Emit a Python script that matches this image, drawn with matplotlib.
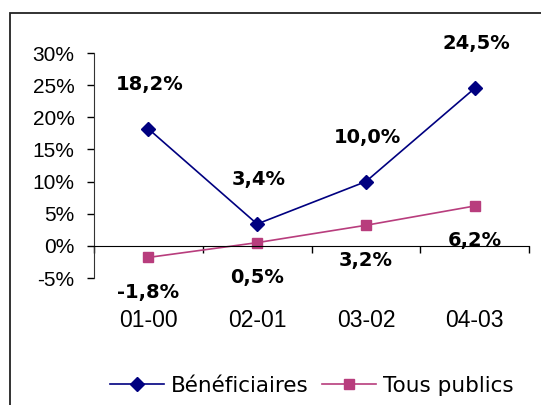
#!/usr/bin/env python3
"""Evolution Bénéficiaires vs Tous publics."""

import matplotlib

matplotlib.use("Agg")
import matplotlib.pyplot as plt
from matplotlib.patches import Rectangle
from matplotlib.lines import Line2D


periods = ["01-00", "02-01", "03-02", "04-03"]
beneficiaires = [18.2, 3.4, 10.0, 24.5]
tous_publics = [-1.8, 0.5, 3.2, 6.2]
y_ticks = [-5, 0, 5, 10, 15, 20, 25, 30]

BLUE = "#000080"
PINK = "#B83D7D"


def fmt(v: float) -> str:
    return f"{v:.1f}%".replace(".", ",")


def main() -> None:
    fig = plt.figure(figsize=(5.41, 4.05), dpi=100)
    ax = fig.add_axes([94 / 541, 1 - 278 / 405, 435 / 541, 225 / 405])

    # outer frame of the chart area (runs off the right and bottom edges)
    fig.patches.append(Rectangle((10 / 541, -0.2), 1.2, 1 - 13 / 405 + 0.2,
                                 transform=fig.transFigure, fill=False,
                                 edgecolor="#222222", linewidth=1.3))

    x = list(range(len(periods)))
    ax.plot(x, beneficiaires, color=BLUE, marker="D", markersize=7.5, linewidth=1.2)
    ax.plot(x, tous_publics, color=PINK, marker="s", markersize=7.5, linewidth=1.2)

    ax.set_xlim(-0.5, 3.5)
    ax.set_ylim(-5, 30)
    ax.set_yticks(y_ticks)
    ax.set_yticklabels([f"{t}%" for t in y_ticks], family="Liberation Sans", fontsize=15)
    ax.tick_params(axis="y", length=5, width=1, pad=9)

    for side in ("top", "right"):
        ax.spines[side].set_visible(False)
    ax.spines["bottom"].set_position(("data", 0))
    ax.spines["left"].set_color("#333333")
    ax.set_xticks([-0.5, 0.5, 1.5, 2.5, 3.5])
    ax.set_xticklabels([])
    ax.tick_params(axis="x", direction="out", length=5, width=1)

    trans = ax.get_xaxis_transform()
    for xi, p in zip(x, periods):
        ax.text(xi, -0.187, p, transform=trans, ha="center", va="center",
                family="Liberation Sans", fontsize=16.5)

    for xi, v in zip(x, beneficiaires):
        ax.annotate(fmt(v), (xi, v), xytext=(1, 32), textcoords="offset points",
                    ha="center", va="center", fontsize=14, fontweight="bold")
    for xi, v in zip(x, tous_publics):
        ax.annotate(fmt(v), (xi, v), xytext=(0, -25), textcoords="offset points",
                    ha="center", va="center", fontsize=14, fontweight="bold")

    handles = [
        Line2D([], [], color=BLUE, marker="D", markersize=7.5, linewidth=1.2),
        Line2D([], [], color=PINK, marker="s", markersize=7.5, linewidth=1.2),
    ]
    fig.legend(handles, ["Bénéficiaires", "Tous publics"], loc="center",
               bbox_to_anchor=(312 / 541, 1 - 386 / 405), ncol=2, frameon=False,
               fontsize=15.5, handlelength=2.5, handletextpad=0.35,
               columnspacing=0.6)

    fig.savefig("out.png", dpi=100, facecolor="white")
    plt.close(fig)


if __name__ == "__main__":
    main()
